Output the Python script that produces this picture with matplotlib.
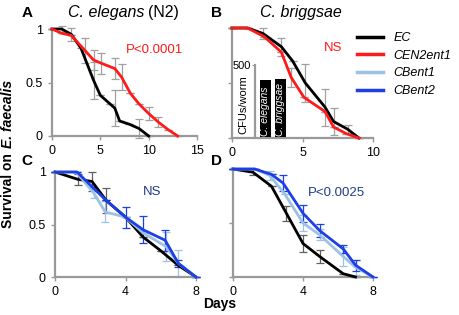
import numpy as np
import matplotlib
matplotlib.use('Agg')
import matplotlib.pyplot as plt
from matplotlib.lines import Line2D

plt.rcParams['font.family'] = ['Liberation Sans', 'DejaVu Sans']

# --- data ---
# panel A: C. elegans (N2)
a_ec_x = [0, 1, 2, 3, 4.3, 5, 6, 6.5, 7, 8, 9, 10]
a_ec_y = [1, 1, 0.95, 0.82, 0.52, 0.38, 0.3, 0.26, 0.14, 0.11, 0.07, 0]
a_ec_e = [0, 0.03, 0.06, 0, 0.17, 0, 0, 0.17, 0, 0, 0.09, 0]
a_cen_x = [0, 1, 2, 3.4, 4.3, 5.1, 6.5, 7.2, 8.1, 9, 10, 11, 12, 13]
a_cen_y = [1, 0.96, 0.94, 0.8, 0.71, 0.68, 0.63, 0.55, 0.4, 0.3, 0.21, 0.13, 0.06, 0]
a_cen_e = [0, 0, 0, 0.12, 0.09, 0.1, 0.1, 0.12, 0, 0, 0.06, 0.05, 0, 0]

# panel B: C. briggsae
b_ec_x = [0, 1.1, 2.2, 3.5, 4.3, 5.2, 6.6, 7.2, 8.2, 9]
b_ec_y = [1, 1, 0.95, 0.83, 0.7, 0.5, 0.28, 0.15, 0.08, 0]
b_ec_e = [0, 0, 0.05, 0.08, 0, 0.17, 0.17, 0.12, 0.04, 0]
b_cen_x = [0, 1.1, 2.3, 3.5, 4.2, 5.1, 6.6, 7.2, 8.1, 9]
b_cen_y = [1, 1, 0.92, 0.78, 0.55, 0.37, 0.24, 0.1, 0.04, 0]
b_cen_e = [0, 0, 0, 0, 0.09, 0, 0, 0, 0, 0]

# inset: CFUs/worm
cfu_labels = ['C. elegans', 'C. briggsae']
cfu_values = [398, 402]

# panel C
c_ec_x = [0, 1.3, 2.1, 2.9, 4, 5, 6, 7, 8]
c_ec_y = [1, 0.93, 0.91, 0.73, 0.57, 0.38, 0.25, 0.11, 0]
c_ec_e = [0, 0.05, 0.09, 0.12, 0, 0, 0, 0, 0]
c_b1_x = [0, 1.2, 2.2, 2.85, 4, 5, 6.3, 7, 8]
c_b1_y = [1, 1, 0.8, 0.62, 0.57, 0.42, 0.29, 0.13, 0]
c_b1_e = [0, 0, 0.05, 0.1, 0, 0, 0.14, 0.13, 0]
c_b2_x = [0, 1.25, 2.1, 2.9, 4, 5, 6.25, 7, 8]
c_b2_y = [1, 1, 0.86, 0.73, 0.57, 0.45, 0.35, 0.13, 0]
c_b2_e = [0, 0, 0, 0, 0.1, 0.13, 0.1, 0.03, 0]

# panel D
d_ec_x = [0, 1.14, 2.2, 3.05, 4, 4.95, 6.3, 7]
d_ec_y = [1, 0.97, 0.84, 0.59, 0.31, 0.19, 0.03, 0]
d_ec_e = [0, 0.03, 0, 0.07, 0.08, 0.06, 0, 0]
d_b1_x = [0, 1.24, 2.1, 2.95, 4, 4.95, 6.3, 7, 8]
d_b1_y = [1, 1, 0.94, 0.77, 0.5, 0.39, 0.19, 0.09, 0]
d_b1_e = [0, 0, 0.04, 0, 0.07, 0.05, 0.09, 0.07, 0]
d_b2_x = [0, 1.24, 2.2, 2.86, 4, 4.95, 6.3, 7, 8]
d_b2_y = [1, 1, 0.95, 0.87, 0.59, 0.43, 0.26, 0.11, 0]
d_b2_e = [0, 0, 0, 0.07, 0.08, 0.06, 0.04, 0.05, 0]

RED = '#ff1a1a'
LBLUE = '#9cc2e5'
BLUE = '#1f3fe6'
NAVY = '#1f3c88'
GREY = '#a0a0a0'

W, H = 459, 315
fig = plt.figure(figsize=(W / 100, H / 100), dpi=100)


def px_axes(left, top, right, bottom):
    return fig.add_axes([left / W, (H - bottom) / H, (right - left) / W, (bottom - top) / H])


def fx(px):
    return px / W


def fy(py):
    return 1 - py / H


def style(ax, xmax, xticks, ylabels=True):
    for s in ['top', 'right']:
        ax.spines[s].set_visible(False)
    for s in ['left', 'bottom']:
        ax.spines[s].set_color('#999999')
        ax.spines[s].set_linewidth(1.6)
    ax.set_xlim(0, xmax)
    ax.set_ylim(0, 1)
    ax.set_xticks(xticks)
    ax.set_yticks([0, 0.5, 1])
    if ylabels:
        ax.set_yticklabels(['0', '0.5', '1'])
    else:
        ax.set_yticklabels([])
    ax.tick_params(colors='#999999', labelcolor='black', labelsize=9, length=3, width=1)


def curve(ax, x, y, e, color, ecolor):
    ax.errorbar(x, y, yerr=e, fmt='none', ecolor=ecolor, elinewidth=0.9,
                capsize=3, capthick=0.9, clip_on=False, zorder=2)
    ax.plot(x, y, color=color, lw=2, clip_on=False, zorder=3)


# A
axA = px_axes(52, 29, 197, 136)
style(axA, 15, [0, 5, 10, 15])
curve(axA, a_ec_x, a_ec_y, a_ec_e, 'black', GREY)
curve(axA, a_cen_x, a_cen_y, a_cen_e, RED, GREY)
axA.text(0.71, 0.8, 'P<0.0001', color=RED, fontsize=9.5, ha='center', va='center',
         transform=axA.transAxes)

# B
axB = px_axes(232, 28, 373, 138)
style(axB, 10, [0, 5, 10], ylabels=False)
curve(axB, b_ec_x, b_ec_y, b_ec_e, 'black', GREY)
curve(axB, b_cen_x, b_cen_y, b_cen_e, RED, GREY)
axB.text(0.72, 0.82, 'NS', color=RED, fontsize=9.5, ha='center', va='center',
         transform=axB.transAxes)

# inset in B
axI = px_axes(255, 65, 290, 137)
axI.patch.set_alpha(0)
for s in ['top', 'right', 'bottom']:
    axI.spines[s].set_visible(False)
axI.spines['left'].set_color('#999999')
axI.spines['left'].set_linewidth(1.6)
xpos = np.array([1.0, 2.5])
axI.bar(xpos, cfu_values, width=1.1, color='black')
for xp, lab in zip(xpos, cfu_labels):
    axI.text(xp, 8, lab, rotation=90, color='white', fontsize=7.5, style='italic',
             ha='center', va='bottom')
axI.set_xlim(0, 3.5)
axI.set_ylim(0, 500)
axI.set_xticks([])
axI.set_yticks([500])
axI.tick_params(colors='#999999', labelcolor='black', labelsize=8, length=2, pad=1)
axI.set_ylabel('CFUs/worm', fontsize=8)
axI.yaxis.set_label_coords(-0.2, 0.45)

# C
axC = px_axes(55, 172, 196, 277)
style(axC, 8, [0, 4, 8])
curve(axC, c_ec_x, c_ec_y, c_ec_e, 'black', '#606060')
curve(axC, c_b1_x, c_b1_y, c_b1_e, LBLUE, LBLUE)
curve(axC, c_b2_x, c_b2_y, c_b2_e, BLUE, BLUE)
axC.text(0.69, 0.81, 'NS', color=NAVY, fontsize=9.5, ha='center', va='center',
         transform=axC.transAxes)

# D
axD = px_axes(233, 169, 373, 277)
style(axD, 8, [0, 4, 8], ylabels=False)
curve(axD, d_ec_x, d_ec_y, d_ec_e, 'black', '#606060')
curve(axD, d_b1_x, d_b1_y, d_b1_e, LBLUE, LBLUE)
curve(axD, d_b2_x, d_b2_y, d_b2_e, BLUE, BLUE)
axD.text(0.74, 0.78, 'P<0.0025', color=NAVY, fontsize=9.5, ha='center', va='center',
         transform=axD.transAxes)

# titles and panel letters
fig.text(fx(144), fy(13), 'C. elegans', style='italic', fontsize=11.5, ha='right', va='center')
fig.text(fx(148), fy(13), '(N2)', fontsize=11.5, ha='left', va='center')
fig.text(fx(301), fy(13), 'C. briggsae', style='italic', fontsize=11.5, ha='center', va='center')
for lab, (px, py) in zip('ABCD', [(27, 13), (217, 13), (27, 161), (217, 161)]):
    fig.text(fx(px), fy(py), lab, fontsize=11, fontweight='bold', ha='center', va='center')

fig.text(fx(8), fy(228), 'Survival on', rotation=90, fontsize=10, fontweight='bold',
         ha='center', va='bottom')
fig.text(fx(8), fy(148), 'E. faecalis', rotation=90, fontsize=10, fontweight='bold',
         style='italic', ha='center', va='bottom')
fig.text(fx(220), fy(304), 'Days', fontsize=10, fontweight='bold', ha='center', va='center')

# legend
handles = [Line2D([], [], color=c, lw=2.5) for c in ['black', RED, LBLUE, BLUE]]
labels = ['EC', 'CEN2ent1', 'CBent1', 'CBent2']
fig.legend(handles, labels, loc='upper left', bbox_to_anchor=(fx(357), fy(32)),
           frameon=False, prop={'style': 'italic', 'size': 9}, handlelength=2.1,
           handletextpad=0.8, labelspacing=0.45, borderaxespad=0, borderpad=0)

fig.savefig('out.png', dpi=100)
